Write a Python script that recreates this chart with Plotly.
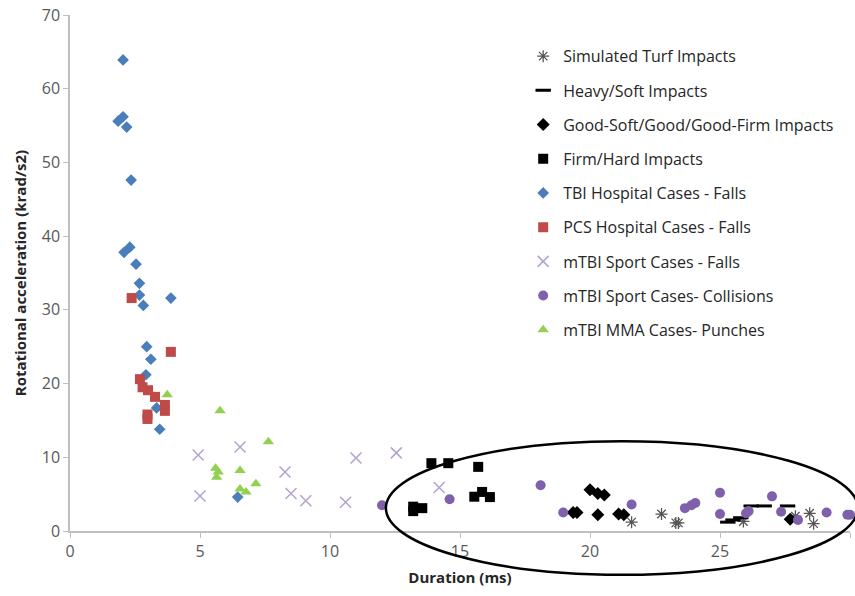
import plotly.graph_objects as go

# ---------------- data (duration ms, rotational acceleration krad/s2) ----------------
turf_x = [21.6, 22.75, 23.3, 23.4, 25.9, 27.9, 28.45, 28.6]
turf_y = [1.2, 2.3, 1.1, 1.1, 1.3, 2.0, 2.4, 1.0]

heavy_x = [25.3, 25.5, 25.8, 26.2, 26.7, 27.6]
heavy_y = [1.2, 1.5, 1.8, 3.4, 3.4, 3.4]

good_x = [19.35, 19.5, 20.0, 20.3, 20.55, 20.3, 21.1, 21.3, 27.7]
good_y = [2.5, 2.5, 5.6, 5.1, 4.9, 2.2, 2.3, 2.2, 1.6]

firm_x = [13.2, 13.2, 13.55, 13.9, 14.55, 15.7, 15.55, 15.85, 16.15]
firm_y = [3.3, 2.7, 3.1, 9.2, 9.2, 8.7, 4.65, 5.3, 4.6]

tbi_x = [2.04, 1.85, 2.04, 2.18, 2.35, 2.08, 2.3, 2.54, 2.67, 2.67, 2.82, 3.88,
         2.95, 3.11, 2.92, 3.33, 3.45, 6.45]
tbi_y = [63.9, 55.6, 56.2, 54.8, 47.6, 37.8, 38.5, 36.2, 33.6, 32.0, 30.6, 31.6,
         25.0, 23.3, 21.2, 16.7, 13.8, 4.6]

pcs_x = [2.37, 3.88, 2.69, 2.79, 3.0, 3.27, 3.65, 3.65, 2.98, 2.98]
pcs_y = [31.6, 24.3, 20.6, 19.5, 19.1, 18.2, 17.1, 16.3, 15.8, 15.2]

falls_x = [4.93, 5.0, 6.54, 8.27, 8.5, 9.07, 10.6, 11.0, 12.55, 14.2]
falls_y = [10.3, 4.75, 11.4, 8.0, 5.1, 4.1, 3.9, 9.9, 10.6, 5.9]

coll_x = [12.0, 14.6, 18.1, 18.97, 21.6, 23.65, 23.9, 24.05, 25.0, 25.0, 26.0, 26.1,
          27.0, 27.35, 28.0, 29.1, 29.9, 30.0]
coll_y = [3.5, 4.3, 6.2, 2.5, 3.6, 3.1, 3.5, 3.8, 5.2, 2.3, 2.4, 2.7,
          4.7, 2.6, 1.5, 2.5, 2.2, 2.2]

mma_x = [3.74, 5.77, 5.6, 5.7, 5.64, 6.54, 6.54, 6.77, 7.15, 7.63]
mma_y = [18.5, 16.3, 8.5, 8.0, 7.3, 8.2, 5.7, 5.3, 6.4, 12.1]

x_ticks = [0, 5, 10, 15, 20, 25, 30]
y_ticks = [0, 10, 20, 30, 40, 50, 60, 70]

FONT = "Open Sans"

series = [
    ("Simulated Turf Impacts", turf_x, turf_y,
     dict(symbol="asterisk-open", size=10, color="#555555", line=dict(color="#555555", width=1.3))),
    ("Heavy/Soft Impacts", heavy_x, heavy_y,
     dict(symbol="line-ew-open", size=11, color="#000000", line=dict(color="#000000", width=3))),
    ("Good-Soft/Good/Good-Firm Impacts", good_x, good_y,
     dict(symbol="diamond", size=10, color="#000000")),
    ("Firm/Hard Impacts", firm_x, firm_y,
     dict(symbol="square", size=10, color="#000000")),
    ("TBI Hospital Cases - Falls", tbi_x, tbi_y,
     dict(symbol="diamond", size=9, color="#4a7ebb")),
    ("PCS Hospital Cases - Falls", pcs_x, pcs_y,
     dict(symbol="square", size=10, color="#be4b48")),
    ("mTBI Sport Cases - Falls", falls_x, falls_y,
     dict(symbol="x-thin-open", size=11, color="#b3a2d0", line=dict(color="#b3a2d0", width=1.5))),
    ("mTBI Sport Cases- Collisions", coll_x, coll_y,
     dict(symbol="circle", size=10, color="#7f60aa")),
    ("mTBI MMA Cases- Punches", mma_x, mma_y,
     dict(symbol="triangle-up", size=10, color="#92d050")),
]

fig = go.Figure()
for i, (name, xs, ys, mk) in enumerate(series):
    fig.add_trace(go.Scatter(x=xs, y=ys, mode="markers", name=name, marker=mk,
                             legendgroup=f"g{i}", cliponaxis=False))

# ellipse highlighting the turf/racing impacts region
fig.add_shape(type="circle", xref="paper", yref="paper",
              x0=0.405, x1=1.01, y0=-0.085, y1=0.174,
              line=dict(color="#000000", width=2.5), layer="above")

axis_common = dict(showgrid=False, zeroline=False, showline=True, linecolor="#bfbfbf",
                   linewidth=1.5, ticks="outside", tickcolor="#bfbfbf", ticklen=5,
                   tickwidth=1.2, tickfont=dict(family=FONT, size=16, color="#595959"))

fig.update_xaxes(range=[0, 30], tickvals=x_ticks, **axis_common,
                 title=dict(text="<b>Duration (ms)</b>", font=dict(family=FONT, size=15, color="#262626"),
                            standoff=12))
fig.update_yaxes(range=[0, 70], tickvals=y_ticks, **axis_common,
                 title=dict(text="<b>Rotational acceleration (krad/s2)</b>",
                            font=dict(family=FONT, size=15, color="#262626"), standoff=12))

fig.update_layout(
    width=855, height=596,
    margin=dict(l=70, r=5, t=15, b=65),
    paper_bgcolor="white", plot_bgcolor="white",
    showlegend=True,
    legend=dict(x=0.581, y=0.953, xanchor="left", yanchor="top",
                font=dict(family=FONT, size=16, color="#262626"),
                tracegroupgap=10.4, bgcolor="rgba(0,0,0,0)", itemwidth=30),
    font=dict(family=FONT),
)

fig.write_html("out.html")
